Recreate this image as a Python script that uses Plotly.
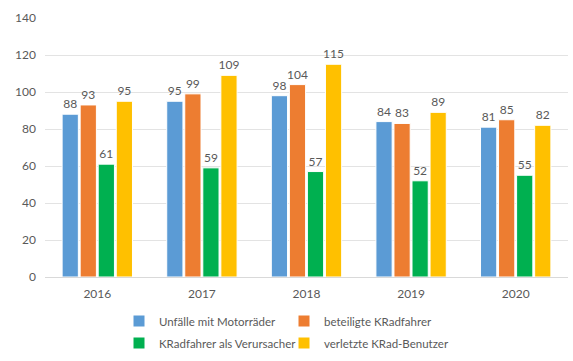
import plotly.graph_objects as go

# Jahre und Kennzahlen der Motorradunfälle
years = ["2016", "2017", "2018", "2019", "2020"]
unfaelle = [88, 95, 98, 84, 81]
beteiligte = [93, 99, 104, 83, 85]
verursacher = [61, 59, 57, 52, 55]
verletzte = [95, 109, 115, 89, 82]

series = [
    ("Unfälle mit Motorräder", unfaelle, "#5B9BD5"),
    ("beteiligte KRadfahrer", beteiligte, "#ED7D31"),
    ("KRadfahrer als Verursacher", verursacher, "#00B050"),
    ("verletzte KRad-Benutzer", verletzte, "#FFC000"),
]
legend_ids = ["legend", "legend2", "legend3", "legend4"]

FONT = "Lato, 'Open Sans', sans-serif"
GREY = "#595959"

fig = go.Figure()
for (name, vals, color), leg in zip(series, legend_ids):
    fig.add_trace(go.Bar(
        x=years, y=vals, name=name,
        marker=dict(color=color, line=dict(color="white", width=1)),
        text=[str(v) for v in vals], textposition="outside",
        textfont=dict(family=FONT, size=12, color=GREY),
        constraintext="none", showlegend=True,
        cliponaxis=False, legend=leg,
    ))

W, H = 573, 361
ml, mr, mt, mb = 45, 5, 18, 83
ph = H - mt - mb
pw = W - ml - mr


def px_to_paper_y(py):
    return (H - mb - py) / ph


def px_to_paper_x(px):
    return (px - ml) / pw


def legend_box(px, py):
    # one legend entry per box, laid out as a 2x2 grid below the axis
    return dict(
        x=px_to_paper_x(px), y=px_to_paper_y(py),
        xanchor="left", yanchor="middle", orientation="h",
        font=dict(family=FONT, size=11.5, color=GREY),
        bgcolor="rgba(0,0,0,0)", itemwidth=30,
    )


col1, col2 = 119, 284
row1, row2 = 321, 343

fig.update_layout(
    width=W, height=H,
    margin=dict(l=ml, r=mr, t=mt, b=mb),
    paper_bgcolor="white", plot_bgcolor="white",
    showlegend=True,
    barmode="group", bargap=0.31, bargroupgap=0.1,
    font=dict(family=FONT, color=GREY),
    legend=legend_box(col1, row1),
    legend2=legend_box(col2, row1),
    legend3=legend_box(col1, row2),
    legend4=legend_box(col2, row2),
    xaxis=dict(
        showgrid=False, showline=True, linecolor="#D9D9D9", linewidth=1,
        ticks="", tickfont=dict(family=FONT, size=12, color=GREY),
        ticklabelstandoff=6,
    ),
    yaxis=dict(
        range=[0, 140], dtick=20, showgrid=True, gridcolor="#E3E3E3",
        gridwidth=1, zeroline=False, showline=False, ticks="",
        tickfont=dict(family=FONT, size=12, color=GREY),
        ticklabelstandoff=8,
    ),
)

fig.write_html("out.html")
